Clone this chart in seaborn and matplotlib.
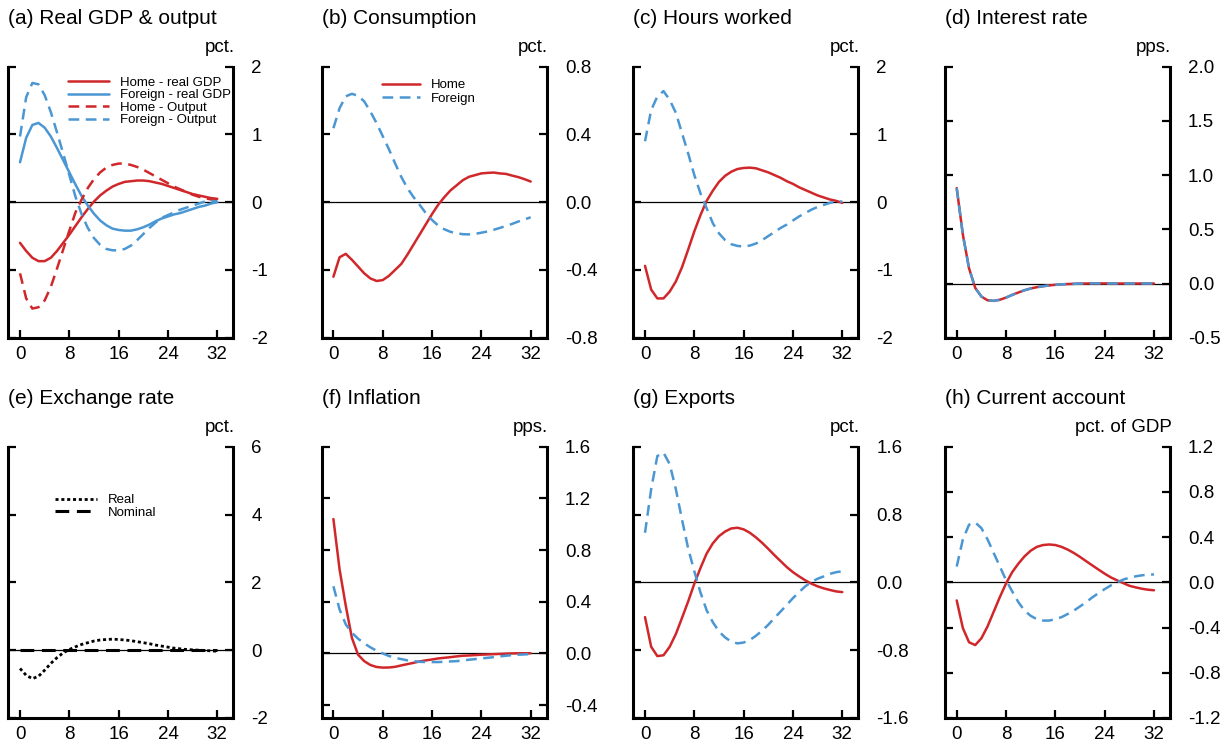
import matplotlib.pyplot as plt
import seaborn as sns
from matplotlib.ticker import FormatStrFormatter

sns.set_style('ticks', {'axes.edgecolor': 'black', 'text.color': 'black',
                        'xtick.color': 'black', 'ytick.color': 'black',
                        'axes.labelcolor': 'black'})
plt.rcParams['font.family'] = ['Liberation Sans', 'DejaVu Sans']
plt.rcParams['axes.unicode_minus'] = False

# quarters after the shock
quarters = list(range(33))

# (a) real GDP & output, pct.
gdp_home = [-0.60, -0.72, -0.82, -0.87, -0.87, -0.82, -0.72, -0.60, -0.48, -0.35, -0.22, -0.10, 0.01,
            0.10, 0.17, 0.23, 0.27, 0.30, 0.31, 0.32, 0.32, 0.31, 0.29, 0.27, 0.24, 0.21, 0.18, 0.15,
            0.12, 0.10, 0.08, 0.06, 0.05]
gdp_foreign = [0.59, 0.95, 1.14, 1.17, 1.10, 0.97, 0.80, 0.62, 0.44, 0.26, 0.09, -0.05, -0.17, -0.27,
               -0.34, -0.39, -0.41, -0.42, -0.42, -0.40, -0.37, -0.33, -0.28, -0.24, -0.21, -0.18,
               -0.16, -0.13, -0.10, -0.07, -0.05, -0.02, 0.00]
output_home = [-1.05, -1.42, -1.57, -1.55, -1.45, -1.25, -0.98, -0.70, -0.42, -0.15, 0.04, 0.21, 0.34,
               0.44, 0.51, 0.55, 0.57, 0.57, 0.55, 0.52, 0.48, 0.43, 0.38, 0.33, 0.28, 0.23, 0.19,
               0.15, 0.11, 0.08, 0.06, 0.04, 0.03]
output_foreign = [0.97, 1.55, 1.76, 1.74, 1.58, 1.33, 1.03, 0.72, 0.40, 0.08, -0.18, -0.38, -0.53,
                  -0.63, -0.69, -0.71, -0.71, -0.69, -0.64, -0.56, -0.47, -0.38, -0.30, -0.23, -0.19,
                  -0.15, -0.11, -0.08, -0.05, -0.02, 0.01, 0.02, 0.01]

# (b) consumption, pct.
cons_home = [-0.44, -0.325, -0.305, -0.34, -0.38, -0.42, -0.45, -0.465, -0.46, -0.435, -0.40, -0.365,
             -0.31, -0.25, -0.19, -0.13, -0.07, -0.015, 0.03, 0.07, 0.10, 0.13, 0.15, 0.16, 0.17,
             0.173, 0.175, 0.17, 0.167, 0.157, 0.148, 0.136, 0.122]
cons_foreign = [0.437, 0.555, 0.625, 0.64, 0.628, 0.595, 0.535, 0.467, 0.39, 0.313, 0.23, 0.15, 0.083,
                0.03, -0.016, -0.065, -0.105, -0.138, -0.16, -0.175, -0.183, -0.189, -0.19, -0.187,
                -0.18, -0.173, -0.163, -0.152, -0.14, -0.128, -0.114, -0.102, -0.089]

# (c) hours worked, pct.
hours_home = [-0.94, -1.29, -1.42, -1.42, -1.32, -1.17, -0.96, -0.70, -0.43, -0.19, 0.02, 0.17, 0.30,
              0.39, 0.45, 0.49, 0.505, 0.51, 0.50, 0.47, 0.44, 0.40, 0.36, 0.31, 0.27, 0.22, 0.18,
              0.14, 0.10, 0.07, 0.04, 0.02, -0.01]
hours_foreign = [0.90, 1.36, 1.56, 1.64, 1.51, 1.32, 1.02, 0.72, 0.40, 0.13, -0.09, -0.31, -0.46, -0.56,
                 -0.62, -0.645, -0.655, -0.64, -0.61, -0.56, -0.50, -0.44, -0.38, -0.33, -0.27, -0.21,
                 -0.16, -0.11, -0.07, -0.04, -0.01, 0.01, 0.01]

# (d) interest rate, pps. (home and foreign coincide)
rate_home = [0.88, 0.45, 0.14, -0.04, -0.12, -0.155, -0.16, -0.15, -0.13, -0.105, -0.083, -0.062,
             -0.046, -0.034, -0.025, -0.018, -0.012, -0.008, -0.005, -0.003, -0.001, 0.0, 0.001,
             0.001, 0.001, 0.0, 0.0, 0.0, 0.0, 0.0, 0.0, 0.0, 0.0]
rate_foreign = [0.88, 0.45, 0.14, -0.04, -0.12, -0.155, -0.16, -0.15, -0.13, -0.105, -0.083, -0.062,
                -0.046, -0.034, -0.025, -0.018, -0.012, -0.008, -0.005, -0.003, -0.001, 0.0, 0.001,
                0.001, 0.001, 0.0, 0.0, 0.0, 0.0, 0.0, 0.0, 0.0, 0.0]

# (e) exchange rate, pct.
fx_real = [-0.54, -0.74, -0.84, -0.77, -0.59, -0.39, -0.22, -0.08, 0.02, 0.10, 0.17, 0.22, 0.27, 0.30,
           0.315, 0.325, 0.315, 0.30, 0.28, 0.25, 0.22, 0.19, 0.15, 0.12, 0.09, 0.06, 0.04, 0.02,
           0.01, 0.0, -0.01, -0.02, -0.03]
fx_nominal = [0.0, 0.0, 0.0, 0.0, 0.0, 0.0, 0.0, 0.0, 0.0, 0.0, 0.0, 0.0, 0.0, 0.0, 0.0, 0.0, 0.0,
              0.0, 0.0, 0.0, 0.0, 0.0, 0.0, 0.0, 0.0, 0.0, 0.0, 0.0, 0.0, 0.0, 0.0, 0.0, 0.0]

# (f) inflation, pps.
infl_home = [1.04, 0.65, 0.37, 0.12, -0.01, -0.06, -0.09, -0.105, -0.11, -0.109, -0.104, -0.093,
             -0.083, -0.073, -0.062, -0.054, -0.047, -0.039, -0.034, -0.029, -0.023, -0.018, -0.016,
             -0.013, -0.01, -0.008, -0.006, -0.004, -0.002, 0.0, 0.001, 0.001, 0.001]
infl_foreign = [0.52, 0.34, 0.225, 0.16, 0.114, 0.078, 0.047, 0.021, 0.0, -0.02, -0.034, -0.044,
                -0.054, -0.06, -0.065, -0.067, -0.067, -0.067, -0.065, -0.062, -0.06, -0.054, -0.049,
                -0.044, -0.039, -0.034, -0.029, -0.023, -0.018, -0.013, -0.01, -0.008, -0.005]

# (g) exports, pct.
exp_home = [-0.41, -0.76, -0.87, -0.86, -0.76, -0.61, -0.42, -0.225, -0.016, 0.17, 0.34, 0.46, 0.545,
            0.60, 0.636, 0.644, 0.625, 0.585, 0.53, 0.466, 0.395, 0.32, 0.25, 0.18, 0.12, 0.07,
            0.024, -0.016, -0.047, -0.071, -0.09, -0.107, -0.115]
exp_foreign = [0.585, 1.10, 1.49, 1.53, 1.395, 1.10, 0.74, 0.40, 0.13, -0.12, -0.33, -0.47, -0.58,
               -0.65, -0.70, -0.72, -0.71, -0.68, -0.63, -0.57, -0.50, -0.42, -0.344, -0.265, -0.186,
               -0.115, -0.047, 0.004, 0.043, 0.07, 0.10, 0.12, 0.13]

# (h) current account, pct. of GDP
ca_home = [-0.16, -0.405, -0.53, -0.555, -0.495, -0.39, -0.26, -0.13, -0.01, 0.09, 0.165, 0.23, 0.28,
           0.314, 0.33, 0.335, 0.33, 0.314, 0.29, 0.26, 0.225, 0.187, 0.15, 0.113, 0.077, 0.044,
           0.018, -0.006, -0.03, -0.044, -0.056, -0.065, -0.07]
ca_foreign = [0.14, 0.38, 0.51, 0.53, 0.48, 0.38, 0.26, 0.14, 0.02, -0.08, -0.175, -0.25, -0.296,
              -0.326, -0.338, -0.338, -0.326, -0.308, -0.28, -0.25, -0.213, -0.175, -0.133, -0.095,
              -0.06, -0.027, 0.0, 0.024, 0.041, 0.053, 0.062, 0.068, 0.07]

red = '#d0272b'
blue = '#4b97d3'
solid = '-'
dashed = (0, (4.3, 2.6))

W, H = 1222, 742
fig = plt.figure(figsize=(W / 100, H / 100), dpi=100)

lefts = [8.3, 321.7, 633.3, 945]
rows = [(66.7, 337.7), (446.7, 718)]
width = 225


def make_ax(row, col):
    top, bottom = rows[row]
    return fig.add_axes([lefts[col] / W, 1 - bottom / H, width / W, (bottom - top) / H])


def draw_panel(ax, series, title, unit, ylim, yticks, fmt, legend=None):
    ax.axhline(0, color='black', lw=0.9, zorder=1)
    for values, color, ls, lw, label in series:
        sns.lineplot(x=quarters, y=values, ax=ax, color=color, linestyle=ls, lw=lw,
                     label=label, zorder=3)
    ax.set_xlim(-1.9, 34.6)
    ax.set_ylim(*ylim)
    ax.set_xticks([0, 8, 16, 24, 32])
    ax.set_yticks(yticks)
    ax.yaxis.set_major_formatter(FormatStrFormatter(fmt))
    ax.set_xlabel('')
    ax.set_ylabel('')
    ax.spines['top'].set_visible(False)
    for s in ['left', 'right', 'bottom']:
        ax.spines[s].set_linewidth(2.2)
        ax.spines[s].set_color('black')
    ax.tick_params(axis='y', left=True, right=True, labelleft=False, labelright=True,
                   direction='in', length=5.8, width=1.6, pad=13, labelsize=13.5,
                   color='black', labelcolor='black')
    ax.tick_params(axis='x', direction='in', length=5.8, width=1.6, pad=6, labelsize=13.5,
                   color='black', labelcolor='black')
    ax.annotate(title, xy=(0, 1), xycoords='axes fraction', xytext=(0, 35),
                textcoords='offset points', ha='left', va='center', fontsize=15, color='black')
    ax.annotate(unit, xy=(1, 1), xycoords='axes fraction', xytext=(1, 13.5),
                textcoords='offset points', ha='right', va='center', fontsize=13.5, color='black')
    if legend is not None:
        anchor, hlen, tpad, lspace = legend
        leg = ax.legend(loc='upper left', bbox_to_anchor=anchor, frameon=False, fontsize=9.5,
                        borderpad=0, borderaxespad=0, handlelength=hlen, handletextpad=tpad,
                        labelspacing=lspace)
        for t in leg.get_texts():
            t.set_color('black')
    elif ax.get_legend() is not None:
        ax.get_legend().remove()


draw_panel(make_ax(0, 0),
           [(gdp_home, red, solid, 1.8, 'Home - real GDP'),
            (gdp_foreign, blue, solid, 1.8, 'Foreign - real GDP'),
            (output_home, red, dashed, 1.8, 'Home - Output'),
            (output_foreign, blue, dashed, 1.8, 'Foreign - Output')],
           '(a) Real GDP & output', 'pct.', (-2, 2), [-2, -1, 0, 1, 2], '%d',
           legend=((0.267, 0.963), 3.1, 0.85, 0.02))

draw_panel(make_ax(0, 1),
           [(cons_home, red, solid, 1.8, 'Home'),
            (cons_foreign, blue, dashed, 1.8, 'Foreign')],
           '(b) Consumption', 'pct.', (-0.8, 0.8), [-0.8, -0.4, 0.0, 0.4, 0.8], '%.1f',
           legend=((0.267, 0.955), 2.9, 0.85, 0.1))

draw_panel(make_ax(0, 2),
           [(hours_home, red, solid, 1.8, None),
            (hours_foreign, blue, dashed, 1.8, None)],
           '(c) Hours worked', 'pct.', (-2, 2), [-2, -1, 0, 1, 2], '%d')

draw_panel(make_ax(0, 3),
           [(rate_home, red, solid, 1.8, None),
            (rate_foreign, blue, dashed, 1.8, None)],
           '(d) Interest rate', 'pps.', (-0.5, 2.0), [-0.5, 0.0, 0.5, 1.0, 1.5, 2.0], '%.1f')

draw_panel(make_ax(1, 0),
           [(fx_real, 'black', (0, (1.1, 1.0)), 2.0, 'Real'),
            (fx_nominal, 'black', (0, (4.5, 2.5)), 2.2, 'Nominal')],
           '(e) Exchange rate', 'pct.', (-2, 6), [-2, 0, 2, 4, 6], '%d',
           legend=((0.208, 0.825), 3.2, 0.77, 0.0))

draw_panel(make_ax(1, 1),
           [(infl_home, red, solid, 1.8, None),
            (infl_foreign, blue, dashed, 1.8, None)],
           '(f) Inflation', 'pps.', (-0.5, 1.6), [-0.4, 0.0, 0.4, 0.8, 1.2, 1.6], '%.1f')

draw_panel(make_ax(1, 2),
           [(exp_home, red, solid, 1.8, None),
            (exp_foreign, blue, dashed, 1.8, None)],
           '(g) Exports', 'pct.', (-1.6, 1.6), [-1.6, -0.8, 0.0, 0.8, 1.6], '%.1f')

draw_panel(make_ax(1, 3),
           [(ca_home, red, solid, 1.8, None),
            (ca_foreign, blue, dashed, 1.8, None)],
           '(h) Current account', 'pct. of GDP', (-1.2, 1.2),
           [-1.2, -0.8, -0.4, 0.0, 0.4, 0.8, 1.2], '%.1f')

fig.savefig('out.png', dpi=100)
